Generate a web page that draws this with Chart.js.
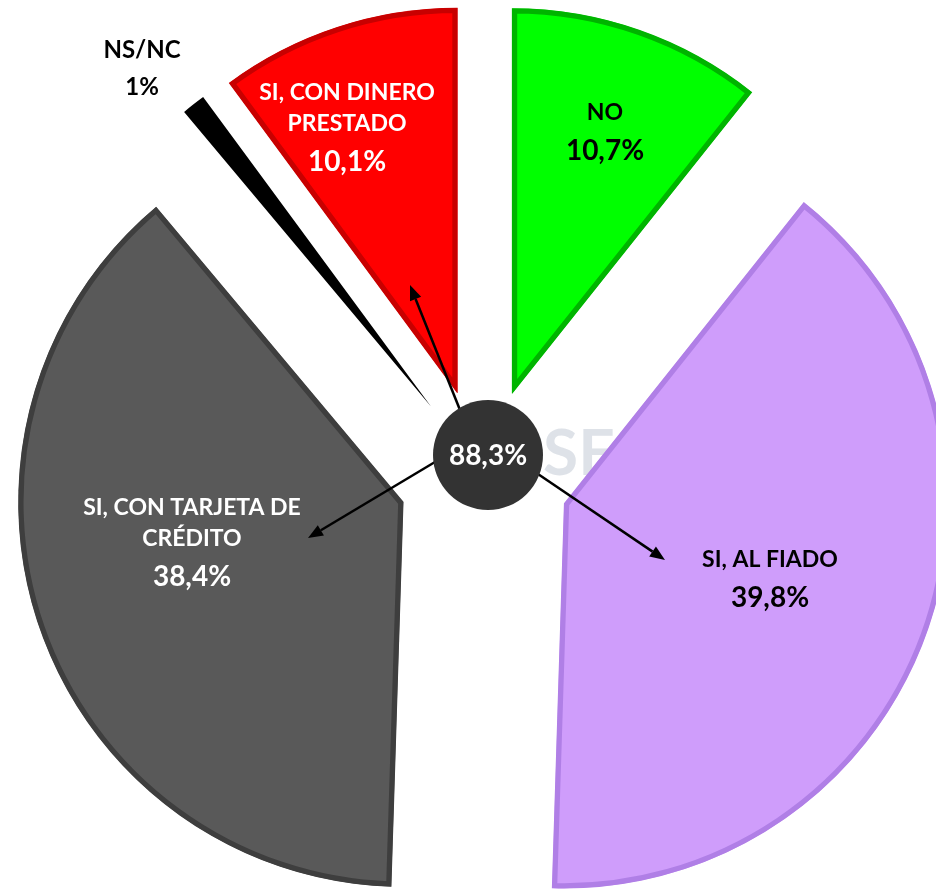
<!DOCTYPE html>
<html>
<head>
<meta charset="utf-8">
<script src="https://cdn.jsdelivr.net/npm/chart.js@4/dist/chart.umd.min.js"></script>
<style>
  html, body { margin: 0; padding: 0; background: #fff; }
  #wrap { width: 936px; height: 891px; }
</style>
</head>
<body>
<div id="wrap"><canvas id="pieChart" width="936" height="891"></canvas></div>
<script>
// data
const categories = ['NO', 'SI, AL FIADO', 'SI, CON TARJETA DE CRÉDITO', 'NS/NC', 'SI, CON DINERO PRESTADO'];
const values = [10.7, 39.8, 38.4, 1.0, 10.1];
const totalYes = 88.3;

// label lines as they are broken in the picture
const labelLines = [['NO'], ['SI, AL FIADO'], ['SI, CON TARJETA DE', 'CRÉDITO'], ['NS/NC'], ['SI, CON DINERO', 'PRESTADO']];
const sliceColors = ['#00FF00', '#CF9DFB', '#595959', '#000000', '#FF0000'];
const bevelColors = ['#00B400', '#B07FE6', '#3E3E3E', '#000000', '#C80000'];
const textColors = ['#000', '#000', '#fff', '#000', '#fff'];
// label anchor, relative to the pie centre
const labelAt = [[121, -361], [286, 86], [-292, 34], [-342, -424], [-137, -381]];

const EXPLODE = 85.5; // px every slice is pulled out from the centre
const fmt = v => (Number.isInteger(v) ? String(v) : v.toFixed(1).replace('.', ',')) + '%';
const FONT = 'Lato, "Open Sans", sans-serif';

// plain translation for the exploded look (the built-in offset also shrinks/grows arcs)
const baseArcDraw = Chart.ArcElement.prototype.draw;
Chart.ArcElement.prototype.draw = function (ctx) {
  const mid = (this.startAngle + this.endAngle) / 2;
  ctx.save();
  ctx.translate(Math.cos(mid) * EXPLODE, Math.sin(mid) * EXPLODE);
  baseArcDraw.call(this, ctx);
  ctx.restore();
};

function arrow(ctx, x1, y1, x2, y2) {
  const a = Math.atan2(y2 - y1, x2 - x1);
  const len = 15, w = 6;
  const bx = x2 - Math.cos(a) * len, by = y2 - Math.sin(a) * len;
  ctx.beginPath();
  ctx.moveTo(x1, y1);
  ctx.lineTo(bx, by);
  ctx.lineWidth = 2.5;
  ctx.strokeStyle = '#000';
  ctx.stroke();
  ctx.beginPath();
  ctx.moveTo(x2, y2);
  ctx.lineTo(bx - Math.sin(a) * w, by + Math.cos(a) * w);
  ctx.lineTo(bx + Math.sin(a) * w, by - Math.cos(a) * w);
  ctx.closePath();
  ctx.fillStyle = '#000';
  ctx.fill();
}

const watermark = {
  id: 'watermark',
  beforeDatasetsDraw(chart) {
    const arc = chart.getDatasetMeta(0).data[0];
    const ctx = chart.ctx;
    ctx.save();
    ctx.fillStyle = 'rgba(200, 206, 216, 0.6)';
    ctx.font = 'bold 64px ' + FONT;
    ctx.textAlign = 'right';
    ctx.textBaseline = 'middle';
    ctx.fillText('PSE', arc.x + 131, arc.y - 20);
    ctx.restore();
  }
};

const overlay = {
  id: 'overlay',
  afterDatasetsDraw(chart) {
    const arcs = chart.getDatasetMeta(0).data;
    const cx = arcs[0].x, cy = arcs[0].y;
    const ctx = chart.ctx;
    ctx.save();

    // arrows from the centre disc to the "SI" labels
    arrow(ctx, cx - 22, cy - 59, cx - 74, cy - 189);
    arrow(ctx, cx - 44, cy - 15, cx - 176, cy + 64);
    arrow(ctx, cx + 51, cy - 2, cx + 181, cy + 86);

    // centre disc with the total of "SI"
    ctx.beginPath();
    ctx.arc(cx + 4, cy - 19, 55, 0, Math.PI * 2);
    ctx.fillStyle = '#333333';
    ctx.fill();
    ctx.fillStyle = '#fff';
    ctx.font = 'bold 28px ' + FONT;
    ctx.textAlign = 'center';
    ctx.textBaseline = 'middle';
    ctx.fillText(fmt(totalYes), cx + 4, cy - 18);

    // slice labels
    categories.forEach((c, i) => {
      const [dx, dy] = labelAt[i];
      const small = values[i] < 5;
      let y = cy + dy;
      ctx.fillStyle = textColors[i];
      ctx.font = (small ? 'bold 24px ' : 'bold 23px ') + FONT;
      labelLines[i].forEach(line => {
        ctx.fillText(line, cx + dx, y);
        y += 31;
      });
      if (!small) ctx.font = 'bold 28px ' + FONT;
      ctx.fillText(fmt(values[i]), cx + dx, y + (small ? 6 : 7));
    });
    ctx.restore();
  }
};

const ctxPie = document.getElementById('pieChart').getContext('2d');
const pieChart = new Chart(ctxPie, {
  type: 'pie',
  data: {
    labels: categories,
    datasets: [{
      data: values,
      backgroundColor: sliceColors,
      borderColor: bevelColors,
      borderWidth: [5, 5, 5, 0, 5],
      borderAlign: 'inner',
      borderJoinStyle: 'miter'
    }]
  },
  options: {
    responsive: false,
    animation: false,
    events: [],
    radius: 385,
    layout: { padding: { left: 32, top: 57, right: 0, bottom: 0 } },
    plugins: {
      legend: { display: false },
      tooltip: { enabled: false }
    }
  },
  plugins: [watermark, overlay]
});
</script>
</body>
</html>
